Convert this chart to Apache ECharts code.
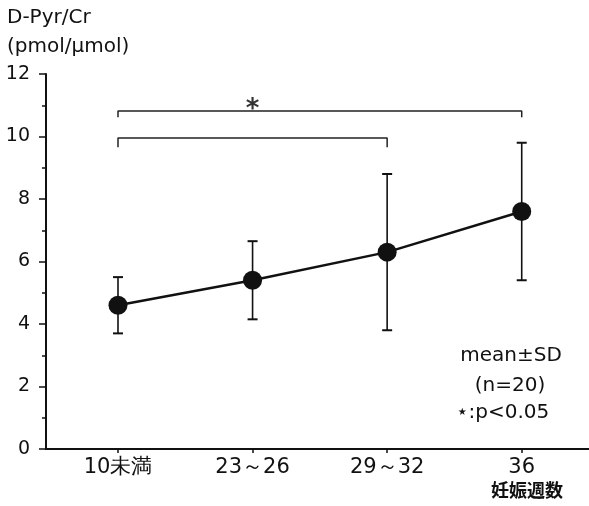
<!DOCTYPE html>
<html>
<head>
<meta charset="utf-8">
<script src="https://cdn.jsdelivr.net/npm/echarts@6/dist/echarts.min.js"></script>
<style>
  html, body { margin: 0; padding: 0; background: #fff; }
  #chart { width: 589px; height: 506px; }
</style>
</head>
<body>
<div id="chart"></div>
<script>
// 妊娠週数ごとの平均値と標準偏差
const weeks = ['10未満', '23～26', '29～32', '36'];
const means = [4.6, 5.4, 6.3, 7.6];
const sds = [0.9, 1.25, 2.5, 2.2];
const yTicks = [0, 2, 4, 6, 8, 10, 12];

// 有意差の括弧 (カテゴリ番号と高さ)
const bracketTop = [[0, 10.62], [0, 10.82], [3, 10.82], [3, 10.62]];
const bracketLow = [[0, 9.66], [0, 9.95], [2, 9.95], [2, 9.66]];
const starPos = [[1, 10.82]];

const ink = '#111';
const font = 'DejaVu Sans';

const chart = echarts.init(document.getElementById('chart'));

const meanData = means.map((m, i) => [i, m]);
const errData = means.map((m, i) => [i, m - sds[i], m + sds[i]]);

const option = {
    animation: false,
    grid: { left: 46, right: 0, top: 74, bottom: 57 },
    xAxis: {
        type: 'value',
        min: -0.535,
        max: 3.5,
        splitLine: { show: false },
        axisLine: { onZero: false, lineStyle: { color: ink, width: 2 } },
        axisTick: { customValues: [0, 1, 2, 3], length: 4, lineStyle: { color: ink, width: 1.5 } },
        axisLabel: {
            customValues: [0, 1, 2, 3],
            formatter: v => weeks[Math.round(v)],
            color: ink,
            fontSize: 21,
            fontFamily: font,
            margin: 8
        }
    },
    yAxis: {
        type: 'value',
        min: 0,
        max: 12,
        interval: 2,
        splitLine: { show: false },
        axisLine: { show: true, onZero: false, lineStyle: { color: ink, width: 2 } },
        axisTick: { show: true, length: 7, lineStyle: { color: ink, width: 1.5 } },
        minorTick: { show: true, splitNumber: 2, length: 4, lineStyle: { color: ink, width: 1.5 } },
        axisLabel: { color: ink, fontSize: 19, fontFamily: font, margin: 16 }
    },
    series: [
        {
            // エラーバー
            type: 'custom',
            data: errData,
            z: 2,
            renderItem: function (params, api) {
                const x = api.value(0);
                const lo = api.coord([x, api.value(1)]);
                const hi = api.coord([x, api.value(2)]);
                const cap = 5;
                const style = { stroke: ink, lineWidth: 1.6 };
                return {
                    type: 'group',
                    children: [
                        { type: 'line', shape: { x1: lo[0], y1: lo[1], x2: hi[0], y2: hi[1] }, style: style },
                        { type: 'line', shape: { x1: lo[0] - cap, y1: lo[1], x2: lo[0] + cap, y2: lo[1] }, style: { stroke: ink, lineWidth: 2 } },
                        { type: 'line', shape: { x1: hi[0] - cap, y1: hi[1], x2: hi[0] + cap, y2: hi[1] }, style: { stroke: ink, lineWidth: 2 } }
                    ]
                };
            }
        },
        {
            type: 'line',
            data: meanData,
            z: 3,
            symbol: 'circle',
            symbolSize: 19,
            itemStyle: { color: ink },
            lineStyle: { color: ink, width: 2.5 }
        },
        {
            type: 'line',
            data: bracketTop,
            symbol: 'none',
            lineStyle: { color: '#222', width: 1.5 }
        },
        {
            type: 'line',
            data: bracketLow,
            symbol: 'none',
            lineStyle: { color: '#222', width: 1.5 }
        },
        {
            type: 'scatter',
            data: starPos,
            symbolSize: 0,
            label: {
                show: true,
                position: 'inside',
                offset: [0, -1],
                formatter: '*',
                color: '#000',
                fontSize: 26,
                fontWeight: 'bold',
                fontFamily: font
            }
        }
    ],
    graphic: [
        { type: 'text', left: 7, top: 8, style: { text: 'D-Pyr/Cr', fontSize: 20, fontFamily: font, fill: ink } },
        { type: 'text', left: 7, top: 37, style: { text: '(pmol/μmol)', fontSize: 20, fontFamily: font, fill: ink } },
        { type: 'text', x: 511, y: 346, style: { text: 'mean±SD', fontSize: 20, fontFamily: font, fill: ink, align: 'center' } },
        { type: 'text', x: 510, y: 376, style: { text: '(n=20)', fontSize: 20, fontFamily: font, fill: ink, align: 'center' } },
        { type: 'text', x: 456, y: 403, style: { text: '⋆:p<0.05', fontSize: 20, fontFamily: font, fill: ink, align: 'left' } },
        { type: 'text', x: 527, y: 481, style: { text: '妊娠週数', fontSize: 18, fontWeight: 'bold', fontFamily: 'Noto Sans CJK JP', fill: ink, align: 'center' } }
    ]
};

chart.setOption(option);

window.addEventListener('resize', function () {
    chart.resize();
});
</script>
</body>
</html>
